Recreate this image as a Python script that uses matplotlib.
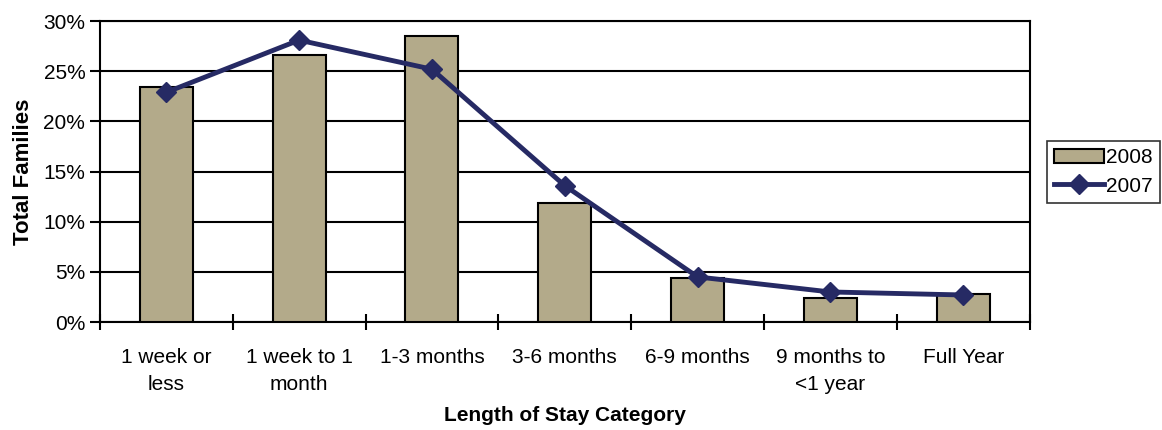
import numpy as np
import matplotlib.pyplot as plt
from matplotlib.ticker import PercentFormatter

plt.rcParams['font.family'] = ['Liberation Sans', 'DejaVu Sans']

# data
categories = ['1 week or\nless', '1 week to 1\nmonth', '1-3 months', '3-6 months',
              '6-9 months', '9 months to\n<1 year', 'Full Year']
pct_2008 = [23.4, 26.6, 28.5, 11.9, 4.4, 2.4, 2.8]
pct_2007 = [22.9, 28.1, 25.2, 13.6, 4.5, 3.0, 2.7]

bar_color = '#B3AA8A'
line_color = '#262A64'
fs = 15

fig = plt.figure(figsize=(11.62, 4.30), dpi=100)
ax = fig.add_axes([0.086, 0.251, 0.8, 0.70])

x = np.arange(len(categories))
bars = ax.bar(x, pct_2008, width=0.4, color=bar_color, edgecolor='black', linewidth=1.5,
              label='2008', zorder=3)
line, = ax.plot(x, pct_2007, color=line_color, linewidth=3.5, marker='D', markersize=10,
                label='2007', zorder=4)

ax.set_xlim(-0.5, len(categories) - 0.5)
ax.set_ylim(0, 30)
ax.set_yticks(np.arange(0, 31, 5))
ax.yaxis.set_major_formatter(PercentFormatter(decimals=0))
ax.grid(axis='y', color='black', linewidth=1.5, zorder=0)

# category labels centred, tick marks between categories
ax.set_xticks(x)
ax.set_xticklabels(categories, fontsize=fs, linespacing=1.5)
ax.tick_params(axis='x', length=0, pad=19)
ax.set_xticks(np.arange(-0.5, len(categories), 1), minor=True)
ax.tick_params(axis='x', which='minor', length=12, width=1.5, direction='inout')
ax.tick_params(axis='y', labelsize=fs, length=7, width=1.5, direction='out')

for s in ax.spines.values():
    s.set_linewidth(1.5)
    s.set_color('black')

ax.set_ylabel('Total Families', fontsize=16, fontweight='bold', labelpad=7)
ax.set_xlabel('Length of Stay Category', fontsize=fs, fontweight='bold', labelpad=9)

leg = fig.legend([bars, line], ['2008', '2007'], loc='center left',
                 bbox_to_anchor=(0.901, 0.60), fontsize=fs,
                 frameon=True, fancybox=False, edgecolor='black',
                 handlelength=2.4, borderpad=0.35, labelspacing=0.45,
                 handletextpad=0.1, borderaxespad=0.0)
leg.get_frame().set_linewidth(1.2)

fig.savefig('out.png', dpi=100)
